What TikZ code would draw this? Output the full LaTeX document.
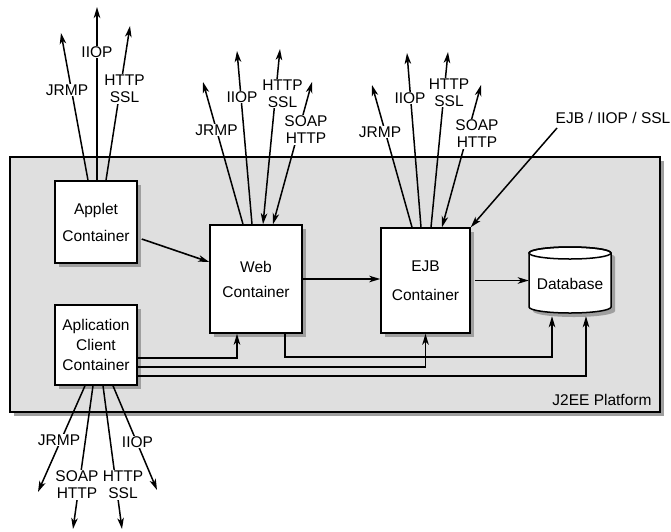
\documentclass[tikz,border=0pt]{standalone}
\usepackage{fontspec}
\setmainfont{Liberation Sans}
\usetikzlibrary{arrows.meta,shadows,calc}
\begin{document}
\begin{tikzpicture}[x=1pt,y=-1pt,
  every node/.style={font=\fontsize{15.5}{17}\selectfont},
  box/.style={draw, line width=1.5pt, fill=white, align=center, inner sep=0pt,
    drop shadow={shadow xshift=4pt, shadow yshift=-4pt, fill=gray!75, opacity=1}},
  lbl/.style={fill=white, inner sep=1pt, align=center},
  ln/.style={line width=1.5pt},
  conn/.style={line width=1.6pt},
  tip/.style={-{Stealth[length=11pt,width=6.5pt,inset=3pt]}},
  both/.style={{Stealth[length=11pt,width=6.5pt,inset=3pt]}-{Stealth[length=11pt,width=6.5pt,inset=3pt]}}
]
\useasboundingbox (0,0) rectangle (671,531);

% platform
\fill[gray!75] (14,161) rectangle (664,416);
\filldraw[fill=gray!25, line width=1.5pt] (10,157) rectangle (660,412);
\node[anchor=east] (plat) at (655,400) {J2EE Platform};

% boxes
\node[box, minimum width=82pt, minimum height=82pt] (applet) at (96,222) {Applet\\[10pt]Container};
\node[box, minimum width=82pt, minimum height=80pt] (acc) at (96,345) {Aplication\\[3pt]Client\\[3pt]Container};
\node[box, minimum width=92pt, minimum height=108pt] (web) at (256,279) {Web\\[8pt]Container};
\node[box, minimum width=89pt, minimum height=105pt] (ejb) at (425.5,280.5) {EJB\\[12pt]Container};

% database cylinder
\fill[gray!75] (533,257) -- (533,311) arc (180:0:41 and 6) -- (615,257) arc (0:-180:41 and 6) -- cycle;
\filldraw[fill=white, line width=1.5pt] (529,253) -- (529,307) arc (180:0:41 and 6) -- (611,253) arc (0:-180:41 and 6) -- cycle;
\draw[line width=1.5pt] (570,253) ellipse (41 and 6);
\node[minimum width=82pt, minimum height=64pt, inner sep=0pt] (db) at (570,284) {Database};

% internal connectors
\draw[conn,tip] ([xshift=4pt,yshift=-17pt]applet.east) -- ([yshift=17pt]web.west);
\draw[conn,tip] (web.east) -- (web.east -| ejb.west);
\draw[conn,tip] ([xshift=4pt]ejb.east) -- (ejb.east -| db.west);
\draw[conn,tip] ([xshift=29pt]web.south) -- ++(0,23) -| ([xshift=-18pt]db.south);
\draw[conn,tip] ([yshift=-13pt]acc.east) -| ([xshift=-19pt]web.south);
\draw[conn,tip] ([yshift=-22pt]acc.east) -| (ejb.south);
\draw[conn,tip] ([yshift=-31pt]acc.east) -| ([xshift=16pt]db.south);

% applet outgoing
\coordinate (aj) at (61,33);
\coordinate (ai) at (97,7);
\coordinate (ah) at (130,26);
\draw[ln,tip] ([xshift=-8pt]applet.north) -- (aj);
\draw[line width=2.4pt,tip] ([xshift=1pt]applet.north) -- (ai);
\draw[ln,tip] ([xshift=10pt]applet.north) -- (ah);
\node[lbl] (laj) at (67,90) {JRMP};
\node[lbl] (lai) at (97,52) {IIOP};
\node[lbl] (lah) at (124.5,89) {HTTP\\SSL};

% web outgoing
\coordinate (wj) at (203,82);
\coordinate (wi) at (237,51);
\coordinate (wh) at (280,49);
\coordinate (ws) at (312,82);
\draw[ln,tip] ([xshift=-13pt]web.north) -- (wj);
\draw[ln,tip] ([xshift=-4pt]web.north) -- (wi);
\draw[ln,both] ([xshift=7pt]web.north) -- (wh);
\draw[ln,both] ([xshift=17pt]web.north) -- (ws);
\node[lbl] (lwj) at (216.5,130) {JRMP};
\node[lbl] (lwi) at (242,97) {IIOP};
\node[lbl] (lwh) at (282.5,93.5) {HTTP\\SSL};
\node[lbl] (lws) at (306,130) {SOAP\\HTTP};

% ejb outgoing
\coordinate (ej) at (372,85);
\coordinate (ei) at (407,53);
\coordinate (eh) at (448,52);
\coordinate (es) at (481,85);
\coordinate (ee) at (557,128);
\draw[ln,tip] ([xshift=-13.5pt]ejb.north) -- (ej);
\draw[ln,tip] ([xshift=-4.5pt]ejb.north) -- (ei);
\draw[ln,tip] ([xshift=5.5pt]ejb.north) -- (eh);
\draw[ln,both] ([xshift=16.5pt]ejb.north) -- (es);
\draw[ln,tip] (ee) -- (ejb.north east);
\node[lbl] (lej) at (380,132) {JRMP};
\node[lbl] (lei) at (410,98) {IIOP};
\node[lbl] (leh) at (449,92.5) {HTTP\\SSL};
\node[lbl] (les) at (477,134) {SOAP\\HTTP};
\node[lbl] (lee) at (613,118) {EJB / IIOP / SSL};

% acc outgoing
\coordinate (bj) at (38,492);
\coordinate (bs) at (73,529);
\coordinate (bh) at (122,529);
\coordinate (bi) at (157,490);
\draw[ln,tip] ([xshift=-11pt]acc.south) -- (bj);
\draw[ln,tip] ([xshift=-3pt]acc.south) -- (bs);
\draw[ln,tip] ([xshift=7pt]acc.south) -- (bh);
\draw[ln,tip] ([xshift=17pt]acc.south) -- (bi);
\node[lbl] (lbj) at (59,440) {JRMP};
\node[lbl] (lbs) at (77,485) {SOAP\\HTTP};
\node[lbl] (lbh) at (123,485) {HTTP\\SSL};
\node[lbl] (lbi) at (137.5,442) {IIOP};
\end{tikzpicture}
\end{document}
